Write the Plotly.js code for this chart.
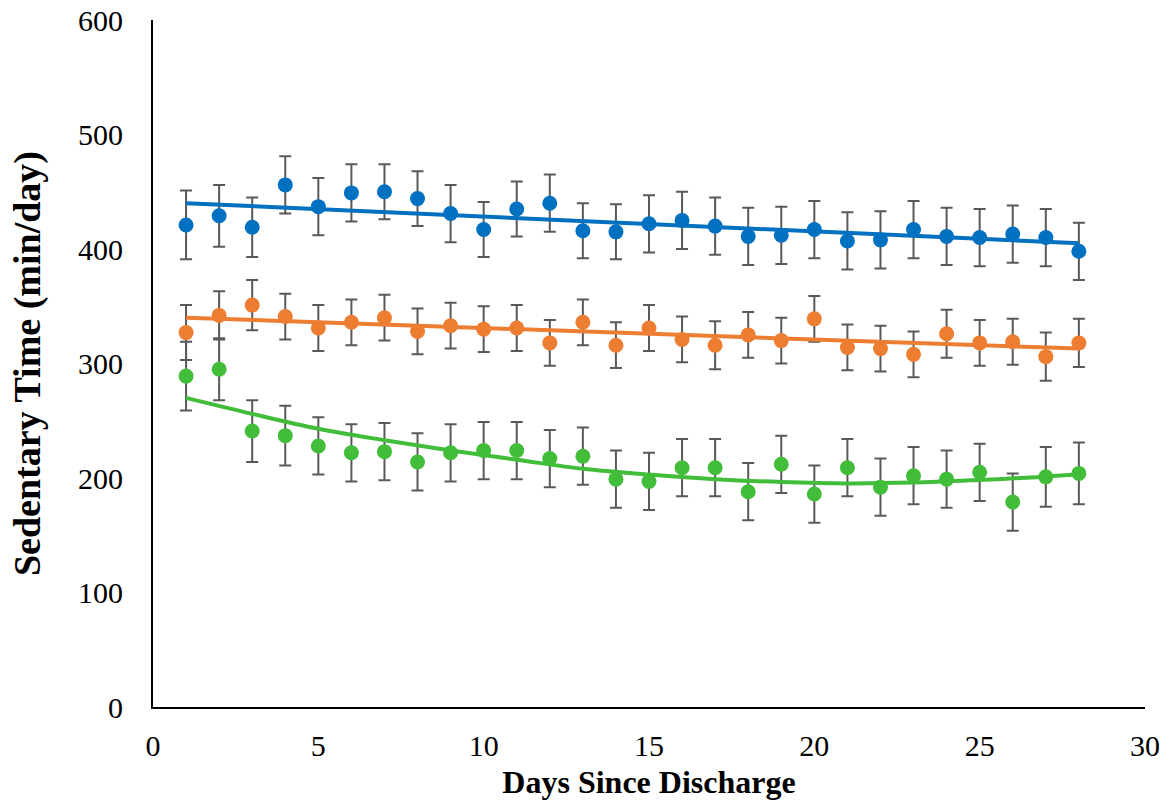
<!DOCTYPE html>
<html>
<head>
<meta charset="utf-8">
<script src="https://cdn.plot.ly/plotly-3.0.1.min.js"></script>
<style>html,body{margin:0;padding:0;background:#fff;}#chart{width:1171px;height:810px;}</style>
</head>
<body>
<div id="chart"></div>
<script>
const days = [1,2,3,4,5,6,7,8,9,10,11,12,13,14,15,16,17,18,19,20,21,22,23,24,25,26,27,28];

const blueVals = [421,429,419,456,437,449,450,444,431,417,435,440,416,415,422,425,420,411,412,417,407,408,417,411,410,413,410,398];
const blueErr  = [30,27,26,25,25,25,24,24,25,24,24,25,24,24,25,25,25,25,25,25,25,25,25,25,25,25,25,25];

const orangeVals = [327,342,351,341,331,336,340,328,333,330,331,318,336,316,331,321,316,325,320,339,314,313,308,326,318,319,306,318];
const orangeErr  = [24,21,22,20,20,20,20,20,20,20,20,20,20,20,20,20,21,20,20,20,20,20,20,21,20,20,21,21];

const greenVals = [289,295,241,237,228,222,223,214,222,224,224,217,219,199,197,209,209,188,212,186,209,192,202,199,205,179,201,204];
const greenErr  = [30,27,27,26,25,25,25,25,25,25,25,25,25,25,25,25,25,25,25,25,25,25,25,25,25,25,26,27];

// trend lines
const blueTrendX = [1,28];
const blueTrendY = [440,405];
const orangeTrendX = [1,28];
const orangeTrendY = [340,313];
const greenTrendX = [1,3,5,7,9,11,13,15,17,19,21,23,25,27,28];
const greenTrendY = [270,256,243,233,224,216,208,203,199,196.5,195.3,196,198.3,201.2,203.2];

const xTicks = [0,5,10,15,20,25,30];
const yTicks = [0,100,200,300,400,500,600];

const cBlue = '#0070C0', cOrange = '#ED7D31', cGreen = '#41BD3A', cErr = '#595959';

function pts(vals, errs, color){
  return {x: days, y: vals, type:'scatter', mode:'markers',
    marker:{color: color, size: 15},
    error_y:{type:'data', array: errs, visible:true, color: cErr, thickness: 2, width: 6},
    showlegend:false, hoverinfo:'x+y'};
}
function trend(xs, ys, color, shape){
  return {x: xs, y: ys, type:'scatter', mode:'lines',
    line:{color: color, width: 4, shape: shape || 'linear', smoothing: 1},
    showlegend:false, hoverinfo:'skip'};
}

const data = [
  pts(blueVals, blueErr, cBlue),
  pts(orangeVals, orangeErr, cOrange),
  pts(greenVals, greenErr, cGreen),
  trend(blueTrendX, blueTrendY, cBlue),
  trend(orangeTrendX, orangeTrendY, cOrange),
  trend(greenTrendX, greenTrendY, cGreen, 'spline')
];

const FAM = 'Liberation Serif';
const tickFont = {family: FAM, size: 30, color:'#000'};

const layout = {
  width: 1171, height: 810,
  margin:{l:153, r:26, t:20, b:103},
  paper_bgcolor:'#fff', plot_bgcolor:'#fff',
  xaxis:{range:[0,30], tickvals: xTicks, ticktext: xTicks.map(String),
    showgrid:false, zeroline:false, showline:true, linecolor:'#000', linewidth:2,
    ticks:'', tickfont: tickFont, ticklabelstandoff: 11,
    title:{text:'<b>Days Since Discharge</b>', font: {family: FAM, size: 32, color:'#000'}, standoff: 10}, automargin:false},
  yaxis:{range:[0,600], tickvals: yTicks, ticktext: yTicks.map(String),
    showgrid:false, zeroline:false, showline:true, linecolor:'#000', linewidth:2,
    ticks:'', tickfont: tickFont, ticklabelstandoff: 22,
    title:{text:'<b>Sedentary Time (min/day)</b>', font: {family: FAM, size: 38, color:'#000'}, standoff: 26}, automargin:false},
  font:{family: FAM}
};

Plotly.newPlot('chart', data, layout, {displayModeBar:false, staticPlot:true});
</script>
</body>
</html>
